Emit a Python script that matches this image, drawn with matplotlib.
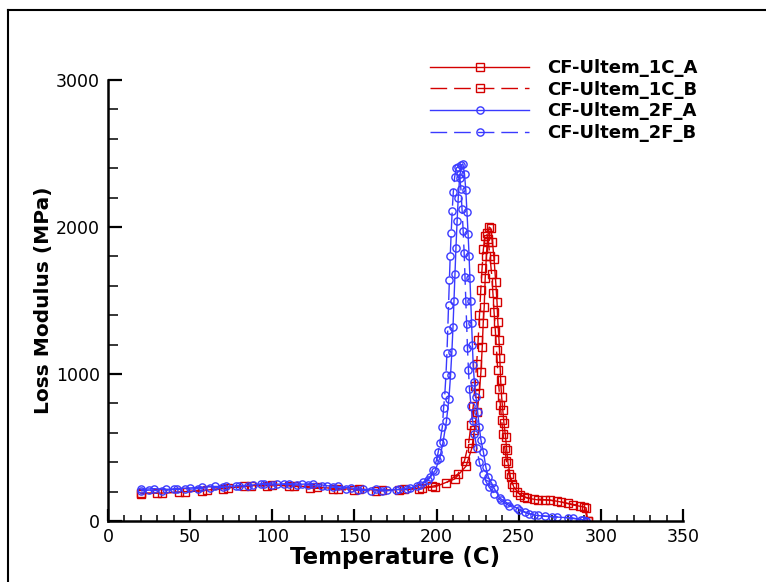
import matplotlib
matplotlib.use('Agg')
import matplotlib.pyplot as plt
from matplotlib.lines import Line2D
from matplotlib.ticker import MultipleLocator

plt.rcParams['font.family'] = ['DejaVu Sans']

# CF-Ultem_1C_A
t_1c_a = [20, 33, 47, 60, 73, 87, 100, 113, 127, 140, 153, 167, 180, 191, 199, 211, 218, 221.5,
          223, 224.6, 226, 227, 227.8, 228.4, 229, 229.6, 230.3, 231, 232, 233, 234, 235, 236,
          236.8, 237.3, 238, 238.5, 239, 239.6, 240.3, 241, 242, 242.7, 243.5, 245, 247, 251,
          255, 262, 269, 276, 283, 290, 292]
e_1c_a = [190, 190, 200, 210, 225, 240, 245, 240, 230, 220, 215, 210, 215, 225, 232, 286, 374, 496,
          619, 741, 870, 1014, 1184, 1350, 1456, 1653, 1800, 1920, 2000, 1990, 1900, 1780, 1626,
          1490, 1354, 1231, 1109, 959, 844, 755, 667, 571, 483, 394, 299, 231, 177,
          156, 143, 143, 129, 109, 95, 0]

# CF-Ultem_1C_B
t_1c_b = [20, 30, 43, 57, 70, 83, 97, 110, 123, 137, 150, 163, 177, 189, 197, 206, 213, 217,
          219.5, 221, 222.3, 223.4, 224.4, 225.3, 226.1, 226.9, 227.7, 228.5, 229.5, 230.5,
          231.5, 232.5, 233.5, 234.3, 235, 235.8, 236.5, 237.2, 238, 238.8, 239.6, 240.5,
          241.5, 242.5, 244, 246, 249, 253, 259, 266, 273, 280, 287, 291, 292]
e_1c_b = [185, 190, 195, 205, 220, 235, 240, 240, 225, 215, 210, 205, 210, 220, 235, 260, 320, 410,
          530, 650, 780, 920, 1070, 1230, 1400, 1570, 1720, 1850, 1940, 1960,
          1900, 1800, 1680, 1550, 1420, 1290, 1160, 1030, 900, 790, 690, 590,
          500, 410, 320, 250, 195, 165, 150, 145, 135, 120, 105, 90, 0]

# CF-Ultem_2F_A
t_2f_a = [20, 28, 35, 42, 50, 57, 65, 72, 80, 88, 95, 103, 110, 118, 125, 133, 140, 148, 155,
          163, 170, 177, 184, 190, 195, 199, 202, 204, 206, 207.5, 208.5, 209.3, 210, 210.6,
          211.2, 211.8, 212.5, 213.2, 214, 215, 216, 217, 217.8, 218.5, 219.2, 219.8, 220.3,
          220.8, 221.3, 221.8, 222.3, 223, 224, 225, 226, 227, 228.5, 230, 231.5, 233.5, 235,
          238.5, 243, 249, 254, 259, 266, 273, 283, 289, 291]
e_2f_a = [215, 220, 215, 220, 225, 230, 235, 235, 240, 245, 255, 250, 255, 250, 255, 240, 235, 225, 215,
          215, 210, 215, 225, 245, 280, 340, 430, 540, 680, 830, 990, 1150, 1320, 1500,
          1680, 1860, 2040, 2200, 2330, 2420, 2430, 2360, 2250, 2100, 1950, 1800, 1650,
          1500, 1350, 1200, 1060, 946, 844, 741, 640, 551, 469, 367, 299, 258, 224,
          156, 122, 88, 60, 41, 32, 27, 20, 8, 0]

# CF-Ultem_2F_B
t_2f_b = [20, 25, 33, 40, 47, 55, 62, 70, 78, 85, 93, 100, 107, 115, 122, 130, 137, 145, 152,
          160, 167, 175, 182, 188, 192, 196, 198, 200, 201, 202, 203.5, 204.3, 205, 205.7,
          206.3, 206.8, 207.3, 207.8, 208.3, 208.9, 209.5, 210.2, 211, 212, 213, 214, 214.8,
          215.5, 216.2, 216.8, 217.3, 217.8, 218.3, 218.8, 219.4, 220, 221, 222, 223, 224.5,
          226, 228, 230, 232, 235, 239, 244, 250, 256, 262, 270, 280, 288, 291]
e_2f_b = [205, 210, 205, 215, 215, 220, 225, 230, 240, 240, 250, 245, 250, 245, 245, 235, 230, 220, 210,
          205, 205, 210, 220, 235, 265, 299, 347, 415, 469, 531, 640, 770, 860, 990,
          1140, 1300, 1470, 1640, 1800, 1960, 2110, 2240, 2340, 2400, 2410, 2360, 2260,
          2120, 1970, 1820, 1660, 1500, 1340, 1180, 1030, 900, 780, 680, 590, 500,
          400, 320, 270, 230, 185, 140, 105, 75, 50, 38, 30, 22, 10, 2]

red = '#d40000'
blue = '#3a3aff'
dash = (0, (12, 5))

fig = plt.figure(figsize=(7.66, 5.82), dpi=100)
ax = fig.add_axes([108 / 766, 1 - 521 / 582, 575 / 766, 441 / 582])

common = dict(linewidth=1.0, markersize=5.2, markerfacecolor='none', markeredgewidth=1.0)
ax.plot(t_1c_a, e_1c_a, color=red, marker='s', linestyle='-', label='CF-Ultem_1C_A', **common)
ax.plot(t_1c_b, e_1c_b, color=red, marker='s', linestyle=dash, label='CF-Ultem_1C_B', **common)
ax.plot(t_2f_a, e_2f_a, color=blue, marker='o', linestyle='-', label='CF-Ultem_2F_A', **common)
ax.plot(t_2f_b, e_2f_b, color=blue, marker='o', linestyle=dash, label='CF-Ultem_2F_B', **common)

ax.set_xlim(0, 350)
ax.set_ylim(0, 3000)
ax.xaxis.set_major_locator(MultipleLocator(50))
ax.xaxis.set_minor_locator(MultipleLocator(10))
ax.yaxis.set_major_locator(MultipleLocator(1000))
ax.yaxis.set_minor_locator(MultipleLocator(200))

for s in ['top', 'right']:
    ax.spines[s].set_visible(False)
for s in ['left', 'bottom']:
    ax.spines[s].set_linewidth(1.8)

ax.tick_params(axis='both', which='both', direction='in', labelsize=12.5)
ax.tick_params(axis='x', which='major', length=9, width=1.6, pad=5)
ax.tick_params(axis='x', which='minor', length=4.5, width=1.1)
ax.tick_params(axis='y', which='major', length=10, width=1.6, pad=6)
ax.tick_params(axis='y', which='minor', length=7, width=1.1)

ax.set_xlabel('Temperature (C)', fontsize=16.5, fontweight='bold', labelpad=0)
ax.set_ylabel('Loss Modulus (MPa)', fontsize=14.5, fontweight='bold', labelpad=2)

leg = ax.legend(loc='upper left', bbox_to_anchor=(430 / 766, 1 - 59 / 582),
                bbox_transform=fig.transFigure, frameon=False, borderpad=0, borderaxespad=0,
                handlelength=5.5, handletextpad=1.0, labelspacing=0.2,
                prop={'size': 13, 'weight': 'bold'})

# outer frame (top and left edges visible)
fig.add_artist(Line2D([7.5 / 766, 7.5 / 766], [0, 1 - 9.5 / 582], color='black', linewidth=1.5,
                      transform=fig.transFigure))
fig.add_artist(Line2D([7.5 / 766, 1], [1 - 9.5 / 582, 1 - 9.5 / 582], color='black', linewidth=1.5,
                      transform=fig.transFigure))

fig.savefig('out.png', dpi=100)
